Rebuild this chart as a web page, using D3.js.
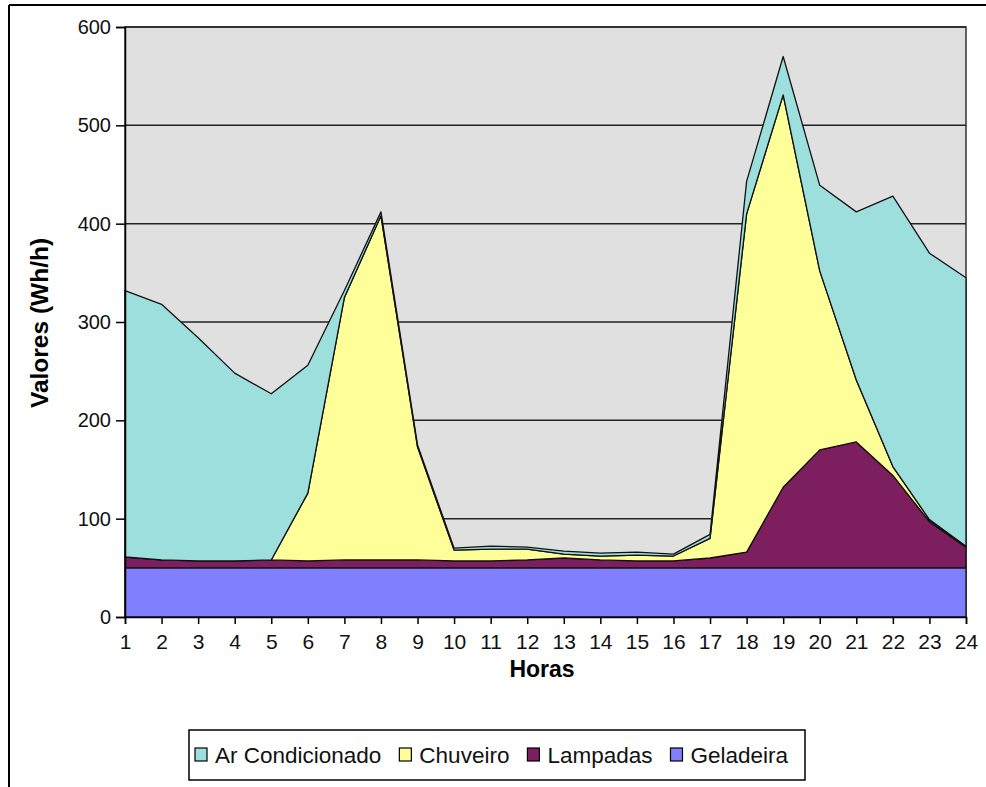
<html>
<head>
  <script src="https://d3js.org/d3.v7.min.js"></script>
  <style>
    body { margin: 0; background: white; }
    text { font-family: "Liberation Sans", Arial, sans-serif; }
  </style>
</head>
<body>
  <svg width="986" height="787" id="chart"></svg>
  <script>
    const horas = [1, 2, 3, 4, 5, 6, 7, 8, 9, 10, 11, 12, 13, 14, 15, 16, 17, 18, 19, 20, 21, 22, 23, 24];
    const geladeira = [50, 50, 50, 50, 50, 50, 50, 50, 50, 50, 50, 50, 50, 50, 50, 50, 50, 50, 50, 50, 50, 50, 50, 50];
    const lampadas = [11, 8, 7, 7, 8, 7, 8, 8, 8, 7, 7, 8, 10, 8, 7, 7, 10, 16, 82, 120, 128, 94, 47, 21];
    const chuveiro = [0, 0, 0, 0, 0, 69, 267, 350, 115, 11, 12, 11, 4, 4, 6, 5, 20, 344, 399, 182, 63, 9, 2, 1];
    const arCondicionado = [271, 260, 227, 191, 169, 130, 7, 4, 2, 2, 3, 2, 3, 3, 3, 2, 4, 33, 39, 87, 171, 275, 271, 273];
    const yTicks = [0, 100, 200, 300, 400, 500, 600];

    const series = ["Geladeira", "Lampadas", "Chuveiro", "Ar Condicionado"];
    const colors = { "Geladeira": "#8080ff", "Lampadas": "#7d1e5f", "Chuveiro": "#ffff99", "Ar Condicionado": "#9cdfdd" };
    const legendOrder = ["Ar Condicionado", "Chuveiro", "Lampadas", "Geladeira"];

    // table for d3.stack
    const table = horas.map((h, i) => ({
      hora: h,
      "Geladeira": geladeira[i],
      "Lampadas": lampadas[i],
      "Chuveiro": chuveiro[i],
      "Ar Condicionado": arCondicionado[i]
    }));

    const svg = d3.select("#chart");

    // outer frame (only top and left edges show)
    svg.append("line").attr("x1", 9).attr("y1", 5).attr("x2", 986).attr("y2", 5)
      .attr("stroke", "black").attr("stroke-width", 2);
    svg.append("line").attr("x1", 9).attr("y1", 5).attr("x2", 9).attr("y2", 787)
      .attr("stroke", "black").attr("stroke-width", 2);

    const xScale = d3.scaleLinear().domain([1, 24]).range([125, 966]);
    const yScale = d3.scaleLinear().domain([0, 600]).range([617, 27]);

    // plot background
    svg.append("rect")
      .attr("x", xScale(1)).attr("y", yScale(600))
      .attr("width", xScale(24) - xScale(1)).attr("height", yScale(0) - yScale(600))
      .attr("fill", "#e0e0e0")
      .attr("stroke", "#333").attr("stroke-width", 1.5);

    // gridlines
    yTicks.slice(1).forEach(t => {
      svg.append("line")
        .attr("x1", xScale(1)).attr("x2", xScale(24))
        .attr("y1", yScale(t)).attr("y2", yScale(t))
        .attr("stroke", "#222").attr("stroke-width", 1.5);
    });

    const stacked = d3.stack().keys(series)(table);

    const area = d3.area()
      .x(d => xScale(d.data.hora))
      .y0(d => yScale(d[0]))
      .y1(d => yScale(d[1]));

    svg.append("g").selectAll("path")
      .data(stacked)
      .join("path")
      .attr("d", area)
      .attr("fill", d => colors[d.key])
      .attr("stroke", "#111")
      .attr("stroke-width", 1.3)
      .attr("stroke-linejoin", "round");

    // axes
    const leftAxis = d3.axisLeft(yScale).tickValues(yTicks).tickSize(9).tickPadding(5);
    const gy = svg.append("g")
      .attr("transform", `translate(${xScale(1)},0)`)
      .call(leftAxis)
      .attr("font-size", 20)
      .attr("font-family", "'Liberation Sans', Arial, sans-serif");

    const bottomAxis = d3.axisBottom(xScale).tickValues(horas).tickSize(7).tickPadding(10).tickFormat(d3.format("d"));
    const gx = svg.append("g")
      .attr("transform", `translate(0,${yScale(0)})`)
      .call(bottomAxis)
      .attr("font-size", 21)
      .attr("font-family", "'Liberation Sans', Arial, sans-serif");

    [gx, gy].forEach(g => {
      g.select(".domain").attr("stroke", "black").attr("stroke-width", 1.5);
      g.selectAll(".tick line").attr("stroke", "black").attr("stroke-width", 1.5);
      g.selectAll(".tick text").attr("fill", "#111");
    });

    // axis titles
    svg.append("text")
      .attr("x", 542)
      .attr("y", 677)
      .style("text-anchor", "middle")
      .style("font-weight", "bold")
      .style("font-size", "23px")
      .text("Horas");

    svg.append("text")
      .attr("transform", "translate(48,323) rotate(-90)")
      .style("text-anchor", "middle")
      .style("font-weight", "bold")
      .style("font-size", "24.5px")
      .text("Valores (Wh/h)");

    // legend
    const legend = svg.append("g");
    legend.append("rect")
      .attr("x", 189).attr("y", 730)
      .attr("width", 616).attr("height", 50)
      .attr("fill", "white").attr("stroke", "black").attr("stroke-width", 1.5);

    let lx = 195;
    legendOrder.forEach(name => {
      legend.append("rect")
        .attr("x", lx).attr("y", 748)
        .attr("width", 12).attr("height", 13)
        .attr("fill", colors[name]).attr("stroke", "black").attr("stroke-width", 1.2);
      const t = legend.append("text")
        .attr("x", lx + 20).attr("y", 763)
        .style("font-size", "22.5px")
        .attr("fill", "#111")
        .text(name);
      lx += 20 + t.node().getComputedTextLength() + 18;
    });
  </script>
</body>
</html>
